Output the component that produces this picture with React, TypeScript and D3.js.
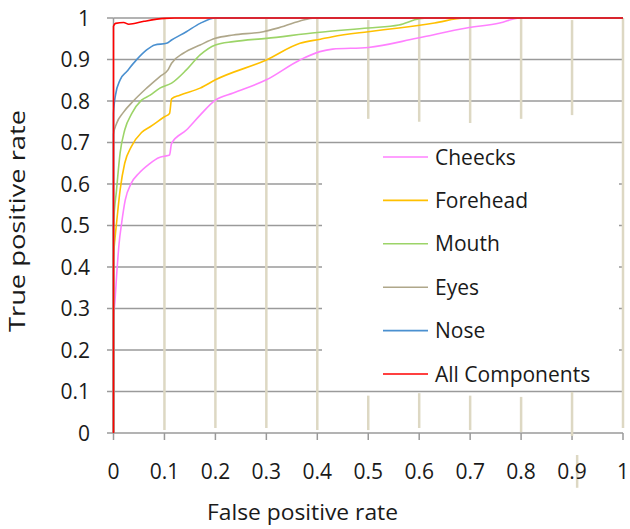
import React from "react";
import * as d3 from "d3";

// values
const tickValues = [0, 0.1, 0.2, 0.3, 0.4, 0.5, 0.6, 0.7, 0.8, 0.9, 1];
const tickLabels = ["0", "0.1", "0.2", "0.3", "0.4", "0.5", "0.6", "0.7", "0.8", "0.9", "1"];

const cheecks: [number, number][] = [
  [0, 0], [0, 0.265], [0.003, 0.32], [0.006, 0.377], [0.011, 0.457], [0.016, 0.506],
  [0.023, 0.561], [0.035, 0.602], [0.05, 0.626], [0.07, 0.648], [0.09, 0.664],
  [0.1, 0.667], [0.11, 0.67], [0.114, 0.698], [0.143, 0.73], [0.17, 0.766],
  [0.2, 0.802], [0.235, 0.819], [0.3, 0.851], [0.366, 0.899], [0.405, 0.919],
  [0.43, 0.925], [0.5, 0.929], [0.595, 0.951], [0.693, 0.976], [0.758, 0.988],
  [0.797, 1], [1, 1],
];
const forehead: [number, number][] = [
  [0, 0], [0, 0.42], [0.003, 0.47], [0.006, 0.506], [0.013, 0.586], [0.022, 0.65],
  [0.035, 0.69], [0.055, 0.724], [0.072, 0.738], [0.1, 0.762], [0.11, 0.77],
  [0.114, 0.805], [0.13, 0.814], [0.17, 0.831], [0.2, 0.851], [0.3, 0.899],
  [0.366, 0.939], [0.406, 0.949], [0.43, 0.955], [0.5, 0.967], [0.56, 0.976],
  [0.63, 0.988], [0.69, 1], [1, 1],
];
const mouth: [number, number][] = [
  [0, 0], [0, 0.5], [0.006, 0.586], [0.013, 0.675], [0.022, 0.73], [0.036, 0.77],
  [0.055, 0.802], [0.072, 0.814], [0.091, 0.831], [0.114, 0.843], [0.143, 0.875],
  [0.17, 0.911], [0.2, 0.935], [0.235, 0.943], [0.3, 0.951], [0.4, 0.965],
  [0.5, 0.976], [0.56, 0.983], [0.6, 0.998], [0.62, 1], [1, 1],
];
const eyes: [number, number][] = [
  [0, 0], [0, 0.72], [0.006, 0.746], [0.019, 0.772], [0.039, 0.8], [0.065, 0.831],
  [0.091, 0.859], [0.107, 0.875], [0.114, 0.891], [0.137, 0.915], [0.17, 0.935],
  [0.2, 0.951], [0.235, 0.959], [0.294, 0.967], [0.32, 0.975], [0.366, 0.993],
  [0.395, 1], [1, 1],
];
const nose: [number, number][] = [
  [0, 0], [0, 0.77], [0.004, 0.815], [0.013, 0.851], [0.026, 0.871], [0.045, 0.899],
  [0.065, 0.923], [0.081, 0.935], [0.104, 0.939], [0.114, 0.947], [0.143, 0.967],
  [0.17, 0.987], [0.2, 1], [1, 1],
];
const allComponents: [number, number][] = [
  [0, 0], [0, 0.98], [0.004, 0.987], [0.02, 0.989], [0.03, 0.985], [0.06, 0.992],
  [0.1, 0.999], [0.12, 1], [1, 1],
];

const seriesNames = ["Cheecks", "Forehead", "Mouth", "Eyes", "Nose", "All Components"];
const seriesData = [cheecks, forehead, mouth, eyes, nose, allComponents];
const seriesColors = ["#ff80ff", "#ffc000", "#9cd468", "#afa78a", "#4a90d0", "#ff0000"];

// the stray beige strokes in the picture: [x, yFrom, yTo]
const strokes: [number, number, number][] = [
  [0.1, 1, 0.007], [0.2, 1, 0.012], [0.3, 1, 0.012], [0.4, 1, 0.007],
  [0.5, 0.995, 0.757], [0.5, 0.09, 0.007], [0.6, 1, 0.75], [0.6, 0.096, 0.012],
  [0.7, 1, 0.747], [0.7, 0.09, 0.007], [0.8, 1, 0.757], [0.8, 0.087, 0.002],
  [0.9, 0.995, 0.766], [0.9, 0.099, -0.007], [0.91, -0.053, -0.132], [1, 1, 0.012],
];

const W = 630;
const H = 529;
const font = "'Open Sans', sans-serif";

export default function App() {
  const x = d3.scaleLinear().domain([0, 1]).range([113.5, 623]);
  const y = d3.scaleLinear().domain([0, 1]).range([433, 18]);
  const line = d3
    .line<[number, number]>()
    .x((d) => x(d[0]))
    .y((d) => y(d[1]))
    .curve(d3.curveMonotoneX);

  const gridColor = "#9a9a9a";
  const legendX = 383;
  const legendY = (i: number) => 157 + i * 43.4;

  return (
    <svg
      width={W}
      height={H}
      style={{ position: "absolute", left: 0, top: 0, background: "#fff" }}
      fontFamily={font}
    >
      {/* horizontal grid */}
      {tickValues.map((t) => (
        <line key={"g" + t} x1={x(0)} x2={x(1)} y1={y(t)} y2={y(t)} stroke={gridColor} strokeWidth={1.5} />
      ))}
      {/* y ticks */}
      {tickValues.map((t) => (
        <line key={"yt" + t} x1={x(0) - 6.5} x2={x(0)} y1={y(t)} y2={y(t)} stroke={gridColor} strokeWidth={1.5} />
      ))}
      {/* x ticks */}
      {tickValues.map((t) => (
        <line key={"xt" + t} x1={x(t)} x2={x(t)} y1={y(0)} y2={y(0) + 7} stroke={gridColor} strokeWidth={1.5} />
      ))}
      <line x1={x(0)} x2={x(0)} y1={y(0)} y2={y(1)} stroke={gridColor} strokeWidth={1.5} />

      {/* legend box */}
      <rect x={322} y={147} width={297} height={239} fill="#fff" />

      {strokes.map((s, i) => (
        <line
          key={"s" + i}
          x1={x(s[0])}
          x2={x(s[0])}
          y1={y(s[1])}
          y2={y(s[2])}
          stroke="#ddd8c3"
          strokeWidth={2.5}
        />
      ))}

      {/* curves */}
      {seriesData.map((d, i) => (
        <path key={seriesNames[i]} d={line(d) ?? ""} fill="none" stroke={seriesColors[i]} strokeWidth={1.6} />
      ))}

      {/* legend */}
      {seriesNames.map((n, i) => (
        <g key={"l" + n}>
          <line x1={legendX} x2={legendX + 45} y1={legendY(i)} y2={legendY(i)} stroke={seriesColors[i]} strokeWidth={1.6} />
          <text x={435} y={legendY(i) + 7.5} fontSize={21} fill="#1a1a1a">
            {n}
          </text>
        </g>
      ))}

      {/* tick labels */}
      {tickValues.map((t, i) => (
        <text key={"yl" + t} x={90} y={y(t) + 7.5} textAnchor="end" fontSize={21} fill="#1a1a1a">
          {tickLabels[i]}
        </text>
      ))}
      {tickValues.map((t, i) => (
        <text key={"xl" + t} x={x(t)} y={479} textAnchor="middle" fontSize={21} fill="#1a1a1a">
          {tickLabels[i]}
        </text>
      ))}

      {/* axis titles */}
      <text
        x={302.5}
        y={520}
        textAnchor="middle"
        fontSize={22}
        fill="#1a1a1a"
        textLength={191}
        lengthAdjust="spacingAndGlyphs"
      >
        False positive rate
      </text>
      <text
        transform="translate(25,221) rotate(-90)"
        textAnchor="middle"
        fontSize={22}
        fill="#1a1a1a"
        textLength={222}
        lengthAdjust="spacingAndGlyphs"
      >
        True positive rate
      </text>
    </svg>
  );
}
